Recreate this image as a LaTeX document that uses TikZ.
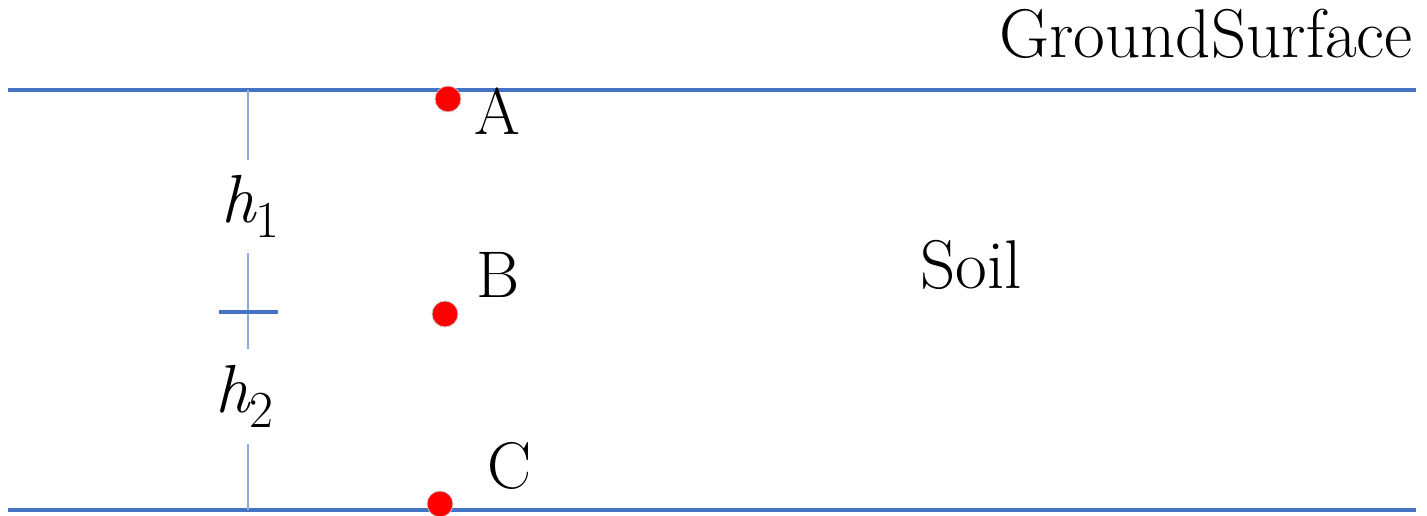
\documentclass[tikz,border=0pt]{standalone}
\usepackage{fontspec}
\definecolor{lineblue}{HTML}{4472C4}
\definecolor{thinblue}{HTML}{8FAADC}
\begin{document}
\begin{tikzpicture}[x=1pt,y=-1pt,
  surface/.style={draw=lineblue,line width=4pt},
  dim/.style={draw=thinblue,line width=1.5pt},
  pt/.style={circle,fill=red,draw=black!20,line width=0.8pt,inner sep=0pt,minimum size=26pt},
  lbl/.style={inner sep=0pt,anchor=base west,font=\fontsize{66}{78}\selectfont},
  big/.style={inner sep=0pt,anchor=base west,font=\fontsize{69}{80}\selectfont},
  hl/.style={inner sep=0pt,anchor=base west}]
\useasboundingbox (0,0) rectangle (1427,516);
% surfaces
\coordinate (t1) at (8,90);
\coordinate (t2) at (1416,90);
\coordinate (b1) at (8,510);
\coordinate (b2) at (1416,510);
\draw[surface] (t1) -- (t2);
\draw[surface] (b1) -- (b2);
% dimension line
\coordinate (v0) at (248,90);
\coordinate (v1) at (248,160);
\coordinate (v2) at (248,253);
\coordinate (v3) at (248,349);
\coordinate (v4) at (248,444);
\coordinate (v5) at (248,510);
\coordinate (k1) at (219,312);
\coordinate (k2) at (278,312);
\draw[dim] (v0) -- (v1);
\draw[dim] (v2) -- (v3);
\draw[dim] (v4) -- (v5);
\draw[surface] (k1) -- (k2);
\node[hl] (h1) at (221,222) {\fontsize{68}{78}\selectfont\itshape h\raisebox{-15pt}{\fontsize{52}{60}\selectfont\upshape 1}};
\node[hl] (h2) at (215,412) {\fontsize{68}{78}\selectfont\itshape h\raisebox{-15pt}{\fontsize{52}{60}\selectfont\upshape 2}};
% points
\node[pt] (A) at (448,99) {};
\node[pt] (B) at (445,314) {};
\node[pt] (C) at (440,504) {};
\node[lbl] (lA) at (474,135) {A};
\node[lbl] (lB) at (476,297) {B};
\node[lbl] (lC) at (487,488) {C};
% texts
\node[big] (soil) at (920,288) {Soil};
\node[big] (gs) at (999,58) {GroundSurface};
\end{tikzpicture}
\end{document}
